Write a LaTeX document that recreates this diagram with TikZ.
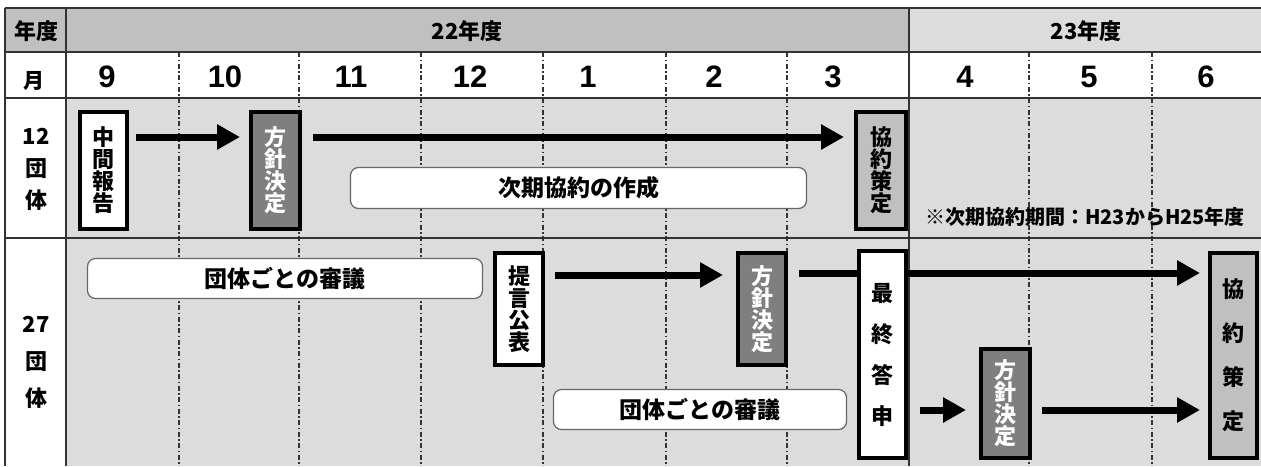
\documentclass[tikz,border=0pt]{standalone}
\usepackage{fontspec}
\setmainfont{Liberation Sans}
\newfontfamily\jp{Noto Sans CJK JP}
\usetikzlibrary{arrows.meta}
\definecolor{hdr}{HTML}{C0C0C0}
\definecolor{bgc}{HTML}{DCDCDC}
\definecolor{darkc}{HTML}{7F7F7F}
\definecolor{gridc}{HTML}{333333}
\begin{document}
\begin{tikzpicture}[x=1pt,y=-1pt,
  gridline/.style={line width=1.3pt, draw=gridc},
  dotline/.style={line width=1.5pt, draw=black!80, dash pattern=on 5pt off 2.5pt on 1.5pt off 2.5pt},
  vbox/.style={draw=black, line width=4pt, inner sep=0pt, minimum width=47pt, align=center, font=\jp\bfseries\fontsize{22}{22}\selectfont},
  whitebox/.style={vbox, fill=white},
  darkbox/.style={vbox, fill=darkc, text=white},
  lightbox/.style={vbox, fill=hdr},
  roundbox/.style={draw=black!60, line width=1.2pt, fill=white, rounded corners=8pt, inner sep=0pt, font=\jp\bfseries\fontsize{23}{23}\selectfont},
  arr/.style={line width=7pt, -{Triangle[length=23pt,width=24pt]}},
  monthlbl/.style={font=\bfseries\fontsize{31}{31}\selectfont},
  hdrlbl/.style={font=\jp\bfseries\fontsize{22}{22}\selectfont},
  rowlbl/.style={align=center, font=\jp\bfseries\fontsize{22}{32}\selectfont},
]
\useasboundingbox (0,0) rectangle (1261,466);
% backgrounds
\fill[white] (0,0) rectangle (1261,466);
\fill[hdr] (5,8) rectangle (909,52);
\fill[bgc] (909,8) rectangle (1261,52);
\fill[white] (5,52) rectangle (1261,98);
\fill[white] (5,98) rectangle (66,466);
\fill[bgc] (66,98) rectangle (1261,466);
% dotted month lines
\foreach \x in {179,299,421,543,666,787,1029,1152} \draw[dotline] (\x,52) -- (\x,466);
% grid
\draw[gridline] (5,8) -- (1261,8);
\draw[gridline] (5,52) -- (1261,52);
\draw[gridline] (5,98) -- (1261,98);
\draw[gridline] (5,238) -- (1261,238);
\draw[gridline] (5,8) -- (5,466);
\draw[gridline] (66,8) -- (66,466);
\draw[gridline] (909,8) -- (909,466);
% header labels
\node[hdrlbl] (nendo) at (36,31) {年度};
\node[hdrlbl] (y22) at (467,31) {22年度};
\node[hdrlbl] (y23) at (1086,31) {23年度};
\node[font=\jp\bfseries\fontsize{21}{21}\selectfont] (tsuki) at (34,81) {月};
\node[monthlbl] (m9) at (107,77) {9};
\node[monthlbl] (m10) at (225,77) {10};
\node[monthlbl] (m11) at (351,77) {11};
\node[monthlbl] (m12) at (470,77) {12};
\node[monthlbl] (m1) at (588,77) {1};
\node[monthlbl] (m2) at (714,77) {2};
\node[monthlbl] (m3) at (833,77) {3};
\node[monthlbl] (m4) at (965,77) {4};
\node[monthlbl] (m5) at (1089,77) {5};
\node[monthlbl] (m6) at (1206,77) {6};
% row labels
\node[rowlbl] (r12) at (36,169) {12\\団\\体};
\node[rowlbl, font=\jp\bfseries\fontsize{22}{37}\selectfont] (r27) at (36,362) {27\\団\\体};
% arrow rows
\coordinate (ya) at (0,137);
\coordinate (yb) at (0,275);
\coordinate (yc) at (0,273);
\coordinate (yd) at (0,410);
% 12 dantai
\node[whitebox, minimum height=117pt] (chukan) at (103.5,170.5) {中\\間\\報\\告};
\node[darkbox, minimum width=49pt, minimum height=117pt] (hoshinA) at (275.5,170.5) {方\\針\\決\\定};
\node[lightbox, minimum width=50pt, minimum height=117pt] (kyoyakuA) at (881,170.5) {協\\約\\策\\定};
\node[roundbox, minimum width=456pt, minimum height=41pt] (sakusei) at (578.5,188) {次期協約の作成};
\node[font=\jp\bfseries\fontsize{20}{20}\selectfont] (note) at (1085,217) {※次期協約期間：H23からH25年度};
\draw[arr, shorten <=7pt, shorten >=9pt] (chukan.east |- ya) -- (hoshinA.west |- ya);
\draw[arr, shorten <=11pt, shorten >=10pt] (hoshinA.east |- ya) -- (kyoyakuA.west |- ya);
% 27 dantai
\node[roundbox, minimum width=395pt, minimum height=40pt] (shingiA) at (285,278.5) {団体ごとの審議};
\node[whitebox, minimum width=48pt, minimum height=112pt] (teigen) at (519,309) {提\\言\\公\\表};
\node[darkbox, minimum width=48pt, minimum height=112pt] (hoshinB) at (762,309) {方\\針\\決\\定};
\node[roundbox, minimum width=293pt, minimum height=40pt] (shingiB) at (700,409.5) {団体ごとの審議};
\node[darkbox, minimum width=49pt, minimum height=109pt] (hoshinC) at (1005.5,403.5) {方\\針\\決\\定};
\node[lightbox, minimum width=47pt, minimum height=205pt, font=\jp\bfseries\fontsize{22}{44}\selectfont] (kyoyakuB) at (1233.5,355.5) {協\\約\\策\\定};
\draw[arr, shorten <=10pt, shorten >=13pt] (teigen.east |- yb) -- (hoshinB.west |- yb);
\draw[arr, shorten <=11pt, shorten >=8pt] (hoshinB.east |- yc) -- (kyoyakuB.west |- yc);
\node[whitebox, minimum width=47pt, minimum height=207pt, font=\jp\bfseries\fontsize{22}{41}\selectfont] (saishu) at (882.5,354.5) {最\\終\\答\\申};
\draw[arr, shorten <=12pt, shorten >=13pt] (saishu.east |- yd) -- (hoshinC.west |- yd);
\draw[arr, shorten <=10pt, shorten >=8pt] (hoshinC.east |- yd) -- (kyoyakuB.west |- yd);
\end{tikzpicture}
\end{document}
